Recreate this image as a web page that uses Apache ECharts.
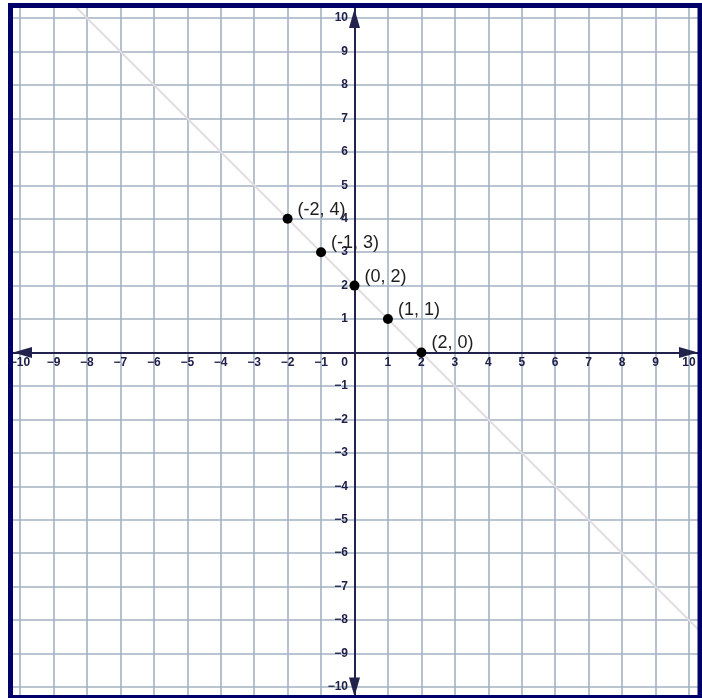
<!DOCTYPE html>
<html>
<head>
<meta charset="utf-8">
<script src="https://cdn.jsdelivr.net/npm/echarts@6/dist/echarts.min.js"></script>
<style>
html,body{margin:0;padding:0;background:#fff;}
#c{width:702px;height:698px;}
</style>
</head>
<body>
<div id="c"></div>
<script>
var xTicks = [-10,-9,-8,-7,-6,-5,-4,-3,-2,-1,0,1,2,3,4,5,6,7,8,9,10];
var yTicks = [-10,-9,-8,-7,-6,-5,-4,-3,-2,-1,0,1,2,3,4,5,6,7,8,9,10];
var xLabelValues = [-10,-9,-8,-7,-6,-5,-4,-3,-2,-1,1,2,3,4,5,6,7,8,9,10];
var yLabelValues = [-10,-9,-8,-7,-6,-5,-4,-3,-2,-1,1,2,3,4,5,6,7,8,9,10];
var originLabel = '0';
var pointNames = ['(-2, 4)', '(-1, 3)', '(0, 2)', '(1, 1)', '(2, 0)'];
var pointX = [-2, -1, 0, 1, 2];
var pointY = [4, 3, 2, 1, 0];
var lineEnds = [[-9, 11], [11, -9]];
var xRange = [-10.21, 10.27];
var yRange = [-10.24, 10.3];

var pts = pointX.map(function (x, i) { return { name: pointNames[i], value: [x, pointY[i]] }; });

function fmt(v) {
  var n = Number(v);
  if (n < 0) return '\u2212' + Math.abs(n);
  return String(n);
}

var FONT = 'Liberation Sans, Arial, sans-serif';
var labelStyle = { color: '#20204a', fontSize: 12, fontWeight: 'bold', fontFamily: FONT, opacity: 1 };
var gridLineStyle = { color: '#a3b2c2', width: 1.6 };
var axisLineStyle = { color: '#22224c', width: 2 };

var xLabelData = xLabelValues.map(function (v) { return { name: fmt(v), value: [v, 0] }; });
xLabelData.push({ name: originLabel, value: [0, 0], label: { offset: [-10, 0] } });
var yLabelData = yLabelValues.map(function (v) { return { name: fmt(v), value: [0, v] }; });

var chart = echarts.init(document.getElementById('c'), null, { renderer: 'canvas' });
chart.setOption({
  animation: false,
  backgroundColor: '#ffffff',
  grid: { left: 13, top: 8, width: 685, height: 687, containLabel: false, outerBoundsMode: 'none' },
  xAxis: {
    type: 'value', min: xRange[0], max: xRange[1],
    axisLine: { show: true, onZero: true, lineStyle: axisLineStyle, symbol: ['triangle', 'triangle'], symbolSize: [11, 19], symbolOffset: [9.5, -9.5] },
    axisTick: { show: false, customValues: xTicks },
    splitLine: { show: true, lineStyle: gridLineStyle, customValues: xTicks },
    axisLabel: { show: false, customValues: xTicks }
  },
  yAxis: {
    type: 'value', min: yRange[0], max: yRange[1],
    axisLine: { show: true, onZero: true, lineStyle: axisLineStyle, symbol: ['triangle', 'triangle'], symbolSize: [11, 19], symbolOffset: [8, -10.5] },
    axisTick: { show: false, customValues: yTicks },
    splitLine: { show: true, lineStyle: gridLineStyle, customValues: yTicks },
    axisLabel: { show: false, customValues: yTicks }
  },
  series: [
    {
      type: 'line', data: lineEnds, symbol: 'none', clip: true, silent: true,
      lineStyle: { color: '#e2dce0', width: 2 }, z: 1
    },
    {
      type: 'scatter', data: xLabelData, symbolSize: 1, silent: true, z: 4,
      itemStyle: { color: 'rgba(0,0,0,0)' },
      label: Object.assign({ show: true, position: 'bottom', distance: 4, formatter: function (p) { return p.name; } }, labelStyle)
    },
    {
      type: 'scatter', data: yLabelData, symbolSize: 1, silent: true, z: 4,
      itemStyle: { color: 'rgba(0,0,0,0)' },
      label: Object.assign({ show: true, position: 'left', distance: 6, formatter: function (p) { return p.name; } }, labelStyle)
    },
    {
      type: 'scatter', data: pts, symbol: 'circle', symbolSize: 10,
      itemStyle: { color: '#000000', opacity: 1 }, z: 5,
      label: {
        show: true, position: 'right', distance: 2, offset: [3, -9],
        formatter: function (p) { return p.name; },
        color: '#1e1e1e', fontSize: 18, fontFamily: FONT, opacity: 1
      }
    }
  ],
  graphic: [
    {
      type: 'rect', z: 100, silent: true,
      shape: { x: 10.5, y: 5.5, width: 689.5, height: 692 },
      style: { fill: null, stroke: '#00006b', lineWidth: 5 }
    }
  ]
});
</script>
</body>
</html>
